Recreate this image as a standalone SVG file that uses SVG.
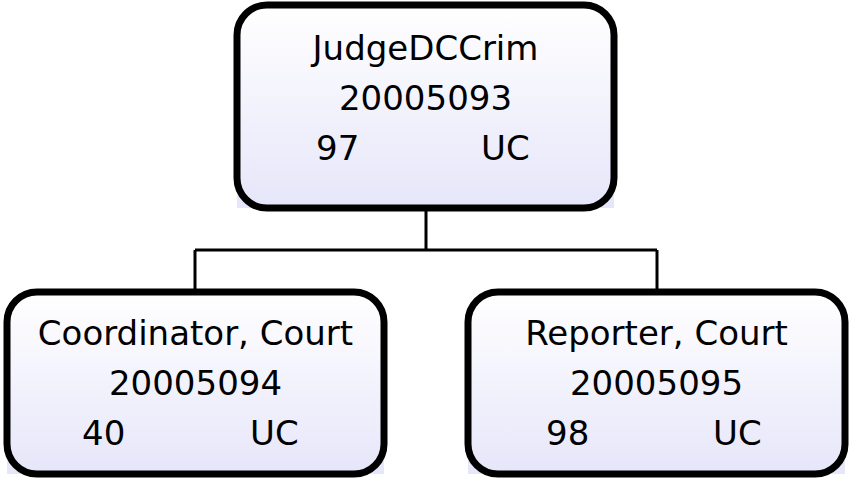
<svg xmlns="http://www.w3.org/2000/svg" width="851" height="480" viewBox="0 0 851 480">
<defs>
<linearGradient id="g" x1="0" y1="0" x2="0" y2="1">
<stop offset="0" stop-color="#ffffff"/>
<stop offset="1" stop-color="#e6e6fa"/>
</linearGradient>
<style>
.bg{fill:url(#g);}
.box{fill:none;stroke:#000;stroke-width:7;}
.t{font-family:"DejaVu Sans",sans-serif;font-size:34px;fill:#000;}
.c{text-anchor:middle;}
.ln{fill:none;stroke:#000;stroke-width:3;}
</style>
</defs>
<rect width="851" height="480" fill="#fff"/>
<g id="connectors">
<path class="ln" d="M426 211 V250 M195 250 H657 M195 250 V289 M657 250 V289"/>
</g>
<g id="node-judge">
<rect class="bg" x="237" y="5" width="377" height="203"/>
<rect class="box" x="237" y="5" width="377" height="203" rx="30" ry="30"/>
<text class="t c" x="425.5" y="60">JudgeDCCrim</text>
<text class="t c" x="425.5" y="110">20005093</text>
<text class="t" x="316" y="160">97</text>
<text class="t" x="481" y="160">UC</text>
</g>
<g id="node-coordinator">
<rect class="bg" x="7" y="292" width="377" height="182"/>
<rect class="box" x="7" y="292" width="377" height="182" rx="30" ry="30"/>
<text class="t c" x="195.5" y="345">Coordinator, Court</text>
<text class="t c" x="195.5" y="395">20005094</text>
<text class="t" x="82" y="445">40</text>
<text class="t" x="250" y="445">UC</text>
</g>
<g id="node-reporter">
<rect class="bg" x="468" y="292" width="377" height="182"/>
<rect class="box" x="468" y="292" width="377" height="182" rx="30" ry="30"/>
<text class="t c" x="656.5" y="345">Reporter, Court</text>
<text class="t c" x="656.5" y="395">20005095</text>
<text class="t" x="546" y="445">98</text>
<text class="t" x="713" y="445">UC</text>
</g>
</svg>
